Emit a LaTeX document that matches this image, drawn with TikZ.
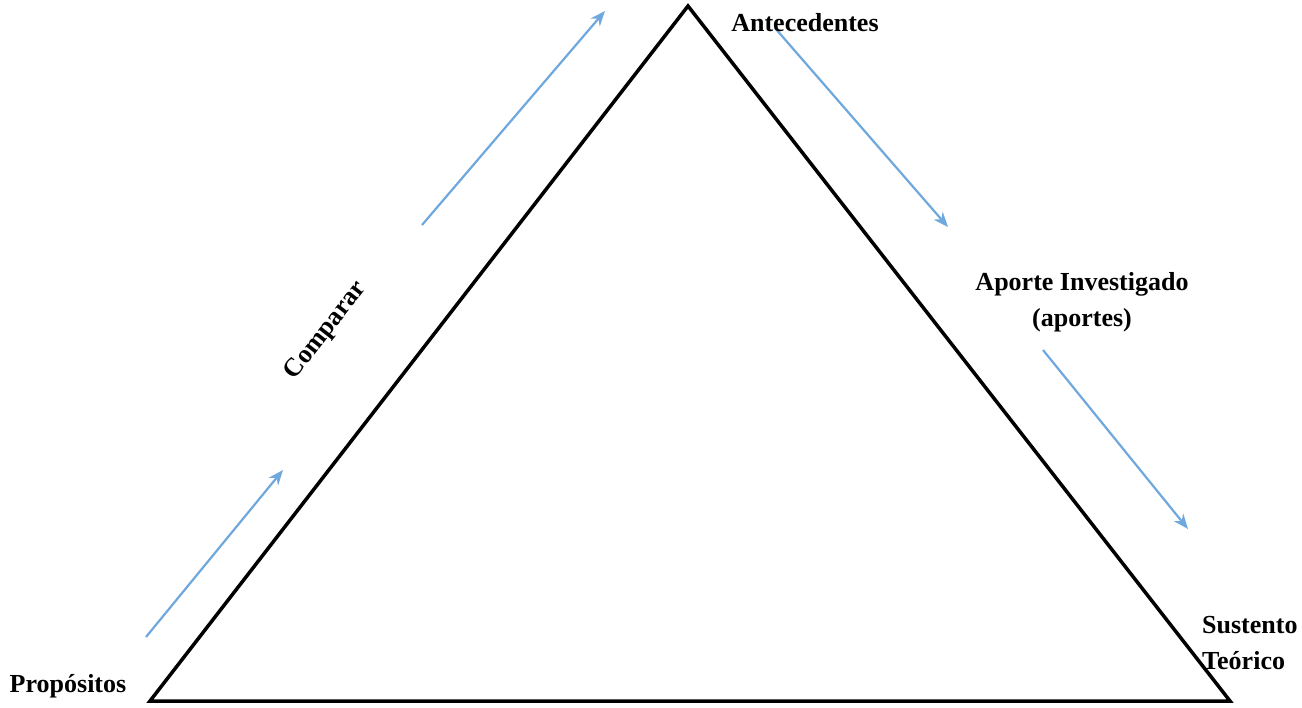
\documentclass[tikz,border=0pt]{standalone}
\usepackage{fontspec}
\setmainfont{Liberation Serif}
\usetikzlibrary{arrows.meta}
\definecolor{arrblue}{RGB}{111,168,220}
\tikzset{
  lbl/.style={font=\fontsize{26}{36}\selectfont\bfseries, inner sep=0pt},
  flow/.style={draw=arrblue, line width=2.2, -{Stealth[length=15, width=12]}},
  tri/.style={draw=black, line width=3.5, line join=miter}
}
\begin{document}
\begin{tikzpicture}[x=1pt,y=-1pt]
\useasboundingbox (0,0) rectangle (1302,708);
\fill[white] (0,0) rectangle (1302,708);
\coordinate (apex) at (688,6);
\coordinate (bl) at (150,701);
\coordinate (br) at (1230,701);
\draw[tri] (bl) -- (apex) -- (br) -- cycle;

\coordinate (a1s) at (146,637);
\coordinate (a1e) at (283,470);
\coordinate (a2s) at (422,225);
\coordinate (a2e) at (605,11);
\coordinate (a3s) at (775,28);
\coordinate (a3e) at (948,227);
\coordinate (a4s) at (1043,350);
\coordinate (a4e) at (1188,529);
\draw[flow] (a1s) -- (a1e);
\draw[flow] (a2s) -- (a2e);
\draw[flow] (a3s) -- (a3e);
\draw[flow] (a4s) -- (a4e);

\node[lbl] (ante) at (805,23) {Antecedentes};
\node[lbl, align=center] (aporte) at (1082,302) {Aporte Investigado\\(aportes)};
\node[lbl, rotate=52] (comp) at (326,331) {Comparar};
\node[lbl] (prop) at (68,686) {Propósitos};
\node[lbl, align=left, anchor=west] (sust) at (1202,643) {Sustento\\Teórico};
\end{tikzpicture}
\end{document}
